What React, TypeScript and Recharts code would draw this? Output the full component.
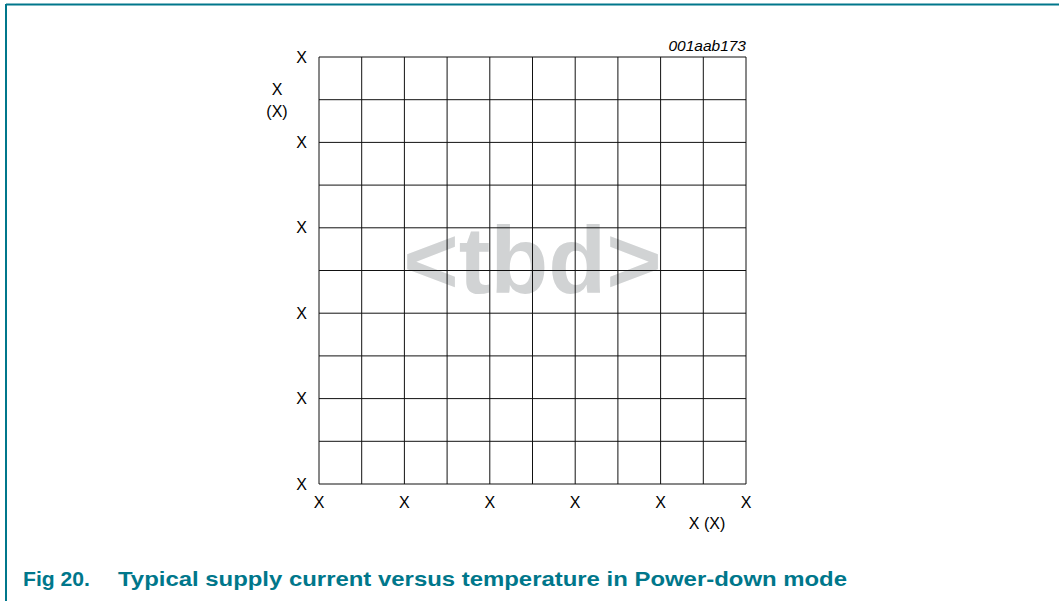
import React from "react";
import { LineChart, Line, XAxis, YAxis, CartesianGrid } from "recharts";

const xTicks = [0, 1, 2, 3, 4, 5, 6, 7, 8, 9, 10];
const yTicks = [0, 1, 2, 3, 4, 5, 6, 7, 8, 9, 10];
const xTickLabels = ["X", "", "X", "", "X", "", "X", "", "X", "", "X"];
const yTickLabels = ["X", "", "X", "", "X", "", "X", "", "X", "", "X"];
const seriesData: { x: number; y?: number }[] = xTicks.map((x) => ({ x }));

const figureCode = "001aab173";
const watermark = "<tbd>";
const figNumber = "Fig 20.";
const figTitle = "Typical supply current versus temperature in Power-down mode";
const xAxisLabel = "X (X)";
const yAxisLabelLines = ["X", "(X)"];

const FONT = "'Liberation Sans', Arial, Helvetica, sans-serif";
const TEAL = "#00778b";

const W = 1059;
const H = 601;

export default function App() {
  return (
    <div style={{ position: "absolute", left: 0, top: 0, width: W, height: H, background: "#fff" }}>
      <svg width={W} height={H} style={{ position: "absolute", left: 0, top: 0 }}>
        <line x1={6} y1={4.5} x2={W} y2={4.5} stroke={TEAL} strokeWidth={2} />
        <line x1={6} y1={4} x2={6} y2={H} stroke={TEAL} strokeWidth={2} />
        <text x={532.5} y={293} textAnchor="middle" fontFamily={FONT} fontWeight="bold" fontSize={95} fill="#d1d3d4">
          {watermark}
        </text>
        <text x={746} y={51} textAnchor="end" fontFamily={FONT} fontStyle="italic" fontSize={15.5} fill="#000">
          {figureCode}
        </text>
        <text x={23} y={586} fontFamily={FONT} fontWeight="bold" fontSize={21} fill={TEAL} textLength={67} lengthAdjust="spacingAndGlyphs">
          {figNumber}
        </text>
        <text x={118} y={586} fontFamily={FONT} fontWeight="bold" fontSize={21} fill={TEAL} textLength={729} lengthAdjust="spacingAndGlyphs">
          {figTitle}
        </text>
      </svg>
      <div style={{ position: "absolute", left: 0, top: 0 }}>
        <LineChart
          width={W}
          height={H}
          data={seriesData}
          margin={{ top: 57, right: 313, bottom: 87, left: 259 }}
          style={{ fontFamily: FONT }}
        >
          <CartesianGrid stroke="#111" strokeWidth={1} strokeOpacity={1} />
          <XAxis
            dataKey="x"
            type="number"
            domain={[0, 10]}
            allowDataOverflow
            ticks={xTicks}
            interval={0}
            height={30}
            axisLine={false}
            tickLine={false}
            tickSize={0}
            tickMargin={13}
            tick={{ fill: "#000", fontSize: 16, fontFamily: FONT }}
            tickFormatter={(v: number) => xTickLabels[xTicks.indexOf(v)] ?? ""}
            label={{
              content: (props: any) => {
                const vb = props.viewBox || {};
                return (
                  <text x={vb.x + vb.width - 39} y={vb.y + 45} textAnchor="middle" fontFamily={FONT} fontSize={16} fill="#000">
                    {xAxisLabel}
                  </text>
                );
              },
            }}
          />
          <YAxis
            type="number"
            domain={[0, 10]}
            allowDataOverflow
            ticks={yTicks}
            interval={0}
            width={60}
            axisLine={false}
            tickLine={false}
            tickSize={0}
            tickMargin={12}
            tick={{ fill: "#000", fontSize: 16, fontFamily: FONT }}
            tickFormatter={(v: number) => yTickLabels[yTicks.indexOf(v)] ?? ""}
            label={{
              content: (props: any) => {
                const vb = props.viewBox || {};
                return (
                  <g>
                    <text x={vb.x + 18} y={95} textAnchor="middle" fontFamily={FONT} fontSize={16} fill="#000">
                      {yAxisLabelLines[0]}
                    </text>
                    <text x={vb.x + 18} y={117} textAnchor="middle" fontFamily={FONT} fontSize={16} fill="#000">
                      {yAxisLabelLines[1]}
                    </text>
                  </g>
                );
              },
            }}
          />
          <Line dataKey="y" isAnimationActive={false} stroke="#000" dot={false} />
        </LineChart>
      </div>
    </div>
  );
}
